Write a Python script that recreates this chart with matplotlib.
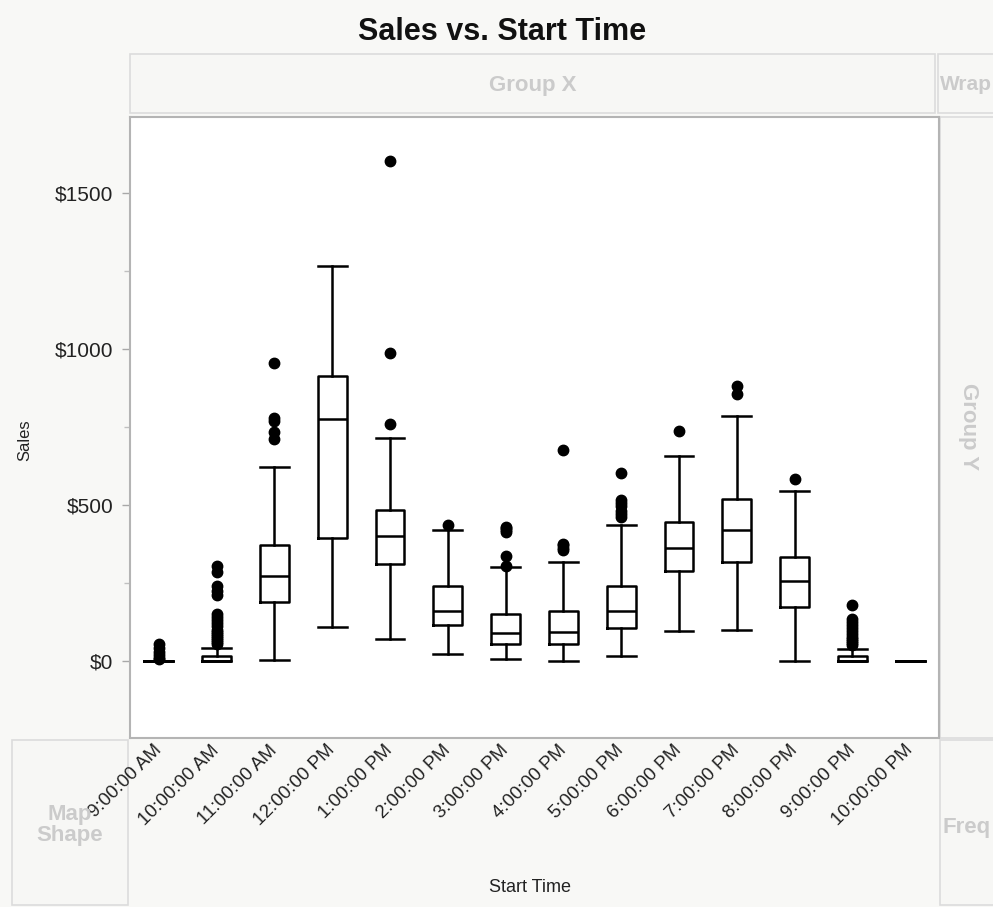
import matplotlib.pyplot as plt
from matplotlib.patches import Rectangle
from matplotlib.ticker import FuncFormatter, MultipleLocator

plt.rcParams['font.family'] = ['Liberation Sans', 'DejaVu Sans']

# Box plot summary per start time (sales in $)
start_times = ['9:00:00 AM', '10:00:00 AM', '11:00:00 AM', '12:00:00 PM',
               '1:00:00 PM', '2:00:00 PM', '3:00:00 PM', '4:00:00 PM',
               '5:00:00 PM', '6:00:00 PM', '7:00:00 PM', '8:00:00 PM',
               '9:00:00 PM', '10:00:00 PM']
q1 = [0, 0, 187, 395, 310, 115, 54, 54, 104, 287, 317, 171, 0, 0]
median = [0, 0, 273, 776, 400, 161, 88, 93, 161, 362, 418, 257, 0, 0]
q3 = [0, 16, 373, 915, 485, 239, 150, 161, 239, 446, 518, 333, 16, 0]
whisker_low = [0, 0, 3, 109, 71, 21, 4, 0, 15, 94, 99, 0, 0, 0]
whisker_high = [0, 42, 623, 1266, 714, 418, 300, 317, 434, 658, 786, 546, 38, 0]
outliers = [
    [5, 10, 18, 28, 40, 55],
    [55, 60, 66, 72, 78, 85, 92, 100, 110, 120, 130, 140, 150,
     210, 225, 240, 285, 305],
    [710, 735, 770, 780, 957],
    [],
    [760, 987, 1605],
    [437],
    [305, 337, 412, 418, 425, 430],
    [355, 362, 370, 375, 677],
    [462, 472, 482, 495, 505, 515, 603],
    [736],
    [855, 883],
    [584],
    [50, 56, 63, 70, 77, 85, 95, 105, 115, 125, 135, 178],
    [],
]

W, H = 993, 907
fig = plt.figure(figsize=(W / 100, H / 100), dpi=100, facecolor='#f8f8f6')


def fx(px):
    return px / W


def fy(py):
    return 1 - py / H


def panel(x0, y0, x1, y1):
    fig.patches.append(Rectangle((fx(x0), fy(y1)), fx(x1) - fx(x0), fy(y0) - fy(y1),
                                 transform=fig.transFigure, facecolor='#f7f7f5',
                                 edgecolor='#dcdcdc', linewidth=1.2, zorder=0))


# empty drop zones around the graph
panel(130, 54, 935, 113)
panel(938, 54, 1000, 113)
panel(940, 117, 1000, 738)
panel(12, 740, 128, 905)
panel(940, 740, 1000, 905)

zone = dict(color='#cbcbcb', fontsize=16, fontweight='bold')
fig.text(fx(533), fy(85), 'Group X', ha='center', va='center', **zone)
fig.text(fx(940), fy(85), 'Wrap', ha='left', va='center',
         color='#cbcbcb', fontsize=15, fontweight='bold')
fig.text(fx(968), fy(427), 'Group Y', ha='center', va='center', rotation=270, **zone)
fig.text(fx(70), fy(825), 'Map\nShape', ha='center', va='center', linespacing=1.0, **zone)
fig.text(fx(942), fy(828), 'Freq', ha='left', va='center', **zone)

fig.text(fx(502), fy(32), 'Sales vs. Start Time', ha='center', va='center',
         fontsize=22, fontweight='bold', color='#111111')

ax = fig.add_axes([fx(130), fy(738), fx(939) - fx(130), fy(117) - fy(738)])
ax.set_facecolor('white')
ax.set_zorder(3)

stats = []
for i, name in enumerate(start_times):
    stats.append(dict(label=name, q1=q1[i], med=median[i], q3=q3[i],
                      whislo=whisker_low[i], whishi=whisker_high[i],
                      fliers=outliers[i]))

line = dict(color='black', linewidth=1.8)
ax.bxp(stats, positions=range(len(start_times)), widths=0.5, capwidths=0.5,
       boxprops=line, whiskerprops=line, capprops=line, medianprops=line,
       flierprops=dict(marker='o', markerfacecolor='black', markeredgecolor='black',
                       markersize=7.5, linestyle='none'))

ax.set_xlim(-0.5, 13.5)
ax.set_ylim(-248, 1745)

ax.yaxis.set_major_locator(MultipleLocator(500))
ax.yaxis.set_minor_locator(MultipleLocator(250))
ax.yaxis.set_major_formatter(FuncFormatter(lambda v, p: f'${v:.0f}'))
ax.tick_params(axis='y', which='major', length=6, width=1, color='#a8a8a8',
               labelsize=15, labelcolor='#222222', pad=6)
ax.tick_params(axis='y', which='minor', length=4, width=1, color='#c0c0c0')

ax.set_xticks(range(len(start_times)))
ax.set_xticklabels(start_times, rotation=45, ha='right', va='center',
                   rotation_mode='anchor')
ax.tick_params(axis='x', length=0, labelsize=13.5, labelcolor='#222222', pad=7)

for s in ax.spines.values():
    s.set_color('#b4b4b4')
    s.set_linewidth(1.5)

fig.text(fx(25), fy(440), 'Sales', rotation=90, ha='center', va='center',
         fontsize=12, color='#222222')
fig.text(fx(530), fy(888), 'Start Time', ha='center', va='center',
         fontsize=13, color='#222222')

fig.savefig('out.png', dpi=100, facecolor=fig.get_facecolor())
